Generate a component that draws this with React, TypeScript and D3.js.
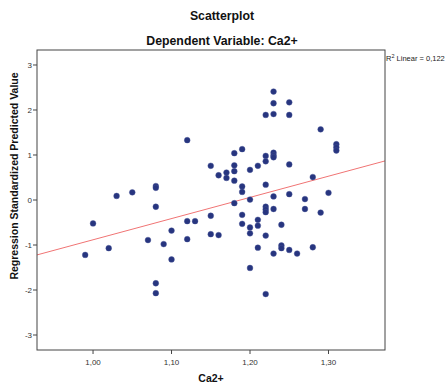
import React from "react";
import * as d3 from "d3";

const xVals = [
  0.99, 1.0, 1.02, 1.03, 1.05, 1.07, 1.08, 1.08, 1.08, 1.08, 1.08, 1.09, 1.1, 1.1,
  1.12, 1.12, 1.12, 1.13, 1.15, 1.15, 1.15, 1.16, 1.16, 1.17, 1.17,
  1.18, 1.18, 1.18, 1.18, 1.18, 1.19, 1.19, 1.19, 1.19, 1.19,
  1.2, 1.2, 1.2, 1.2, 1.2, 1.21, 1.21, 1.21, 1.21,
  1.22, 1.22, 1.22, 1.22, 1.22, 1.22, 1.22, 1.22, 1.22,
  1.23, 1.23, 1.23, 1.23, 1.23, 1.23, 1.23, 1.23, 1.23,
  1.24, 1.24, 1.24, 1.25, 1.25, 1.25, 1.25, 1.25, 1.26,
  1.27, 1.27, 1.28, 1.28, 1.29, 1.29, 1.3, 1.31, 1.31, 1.31,
];
const yVals = [
  -1.22, -0.52, -1.07, 0.09, 0.17, -0.89, 0.31, 0.27, -0.15, -1.85, -2.07, -0.98, -0.68, -1.32,
  1.33, -0.47, -0.87, -0.47, 0.76, -0.35, -0.76, 0.55, -0.78, 0.61, 0.49,
  1.04, 0.77, 0.64, 0.43, -0.07, 1.13, 0.3, 0.18, -0.33, -0.53,
  0.67, 0.01, -0.61, -0.74, -1.51, 0.76, -0.44, -0.57, -1.06,
  1.89, 0.98, 0.86, 0.34, -0.15, -0.21, -0.27, -0.79, -2.09,
  2.41, 2.15, 1.91, 1.05, 0.99, 0.95, 0.08, -0.2, -1.19,
  -0.55, -1.01, -1.07, 2.17, 1.89, 0.79, 0.13, -1.11, -1.19,
  0.02, -0.2, 0.51, -1.05, 1.57, -0.28, 0.16, 1.24, 1.17, 1.1,
];
const xTicks = [1.0, 1.1, 1.2, 1.3];
const xTickLabels = ["1,00", "1,10", "1,20", "1,30"];
const yTicks = [3, 2, 1, 0, -1, -2, -3];
const fitIntercept = -5.594;
const fitSlope = 4.71;
const r2Label = "0,122";

const W = 448;
const H = 384;
const left = 37;
const right = 385;
const top = 50;
const bottom = 350;
const font = "'Liberation Sans', Arial, sans-serif";

export default function App() {
  const x = d3.scaleLinear().domain([0.9286, 1.372]).range([left, right]);
  const y = d3.scaleLinear().domain([-3.333, 3.333]).range([bottom, top]);
  const [x0, x1] = x.domain();
  const line = d3.line<number>()
    .x((d) => x(d))
    .y((d) => y(fitIntercept + fitSlope * d));
  const pts = xVals.map((v, i) => [v, yVals[i]] as [number, number]);

  return (
    <svg width={W} height={H} style={{ position: "absolute", left: 0, top: 0, background: "#fff" }}
      fontFamily={font}>
      <rect x={0} y={0} width={W} height={H} fill="#fff" />
      <text x={222} y={20} textAnchor="middle" fontSize={12.3} fontWeight="bold" fill="#111">Scatterplot</text>
      <text x={222} y={45} textAnchor="middle" fontSize={12.3} fontWeight="bold" fill="#111">Dependent Variable: Ca2+</text>
      <defs>
        <clipPath id="plotclip">
          <rect x={left} y={top} width={right - left} height={bottom - top} />
        </clipPath>
      </defs>
      <path d={line([x0, x1]) || ""} stroke="#f07474" strokeWidth={1} fill="none" clipPath="url(#plotclip)" />
      {pts.map((p, i) => (
        <circle key={i} cx={x(p[0])} cy={y(p[1])} r={2.9} fill="#27357f" stroke="#4a5598" strokeWidth={0.4} />
      ))}
      <rect x={left} y={top} width={right - left} height={bottom - top} fill="none" stroke="#444" strokeWidth={1} />
      {yTicks.map((t) => (
        <g key={t}>
          <line x1={left - 4} x2={left} y1={y(t)} y2={y(t)} stroke="#444" />
          <text x={left - 5} y={y(t) + 3} textAnchor="end" fontSize={8} fill="#333">{t}</text>
        </g>
      ))}
      {xTicks.map((t, i) => (
        <g key={t}>
          <line x1={x(t)} x2={x(t)} y1={bottom} y2={bottom + 4} stroke="#444" />
          <text x={x(t)} y={bottom + 15} textAnchor="middle" fontSize={8} fill="#333">{xTickLabels[i]}</text>
        </g>
      ))}
      <text x={211} y={382} textAnchor="middle" fontSize={10.5} fontWeight="bold" fill="#111">Ca2+</text>
      <text transform={`translate(18,${176}) rotate(-90)`} textAnchor="middle" fontSize={10.5} fontWeight="bold" fill="#111">
        Regression Standardized Predicted Value
      </text>
      <text x={386} y={61} fontSize={7.5} fill="#222">
        R<tspan dy={-3} fontSize={5.5}>2</tspan><tspan dy={3}>{` Linear = ${r2Label}`}</tspan>
      </text>
    </svg>
  );
}
